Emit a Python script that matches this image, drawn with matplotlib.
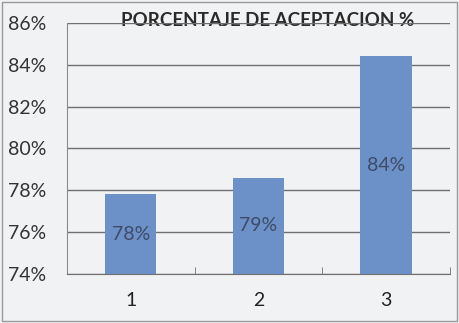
import numpy as np
import matplotlib.pyplot as plt
from matplotlib.patches import Rectangle
from matplotlib.ticker import PercentFormatter
from matplotlib.transforms import offset_copy

plt.rcParams['font.family'] = ['Lato', 'DejaVu Sans']

categorias = ['1', '2', '3']
aceptacion = [0.778, 0.786, 0.844]
titulo = 'PORCENTAJE DE ACEPTACION %'

fig = plt.figure(figsize=(4.59, 3.23), dpi=100)
fig.patch.set_facecolor('#f1f2f4')
fig.patches.append(Rectangle((0.004, 0.006), 0.992, 0.988, transform=fig.transFigure,
                             fill=False, edgecolor='#9a9a9a', linewidth=1.0))

ax = fig.add_axes([0.146, 0.152, 0.834, 0.777])
ax.set_facecolor('#f1f2f4')

x = np.arange(len(categorias))
barras = ax.bar(x, aceptacion, width=0.4, color='#6b91c8', zorder=3)
ax.bar_label(barras, labels=['{:.0%}'.format(v) for v in aceptacion],
             label_type='center', color='#3f4b68', fontsize=14, zorder=4)

ax.set_ylim(0.74, 0.86)
ax.set_yticks(np.arange(0.74, 0.861, 0.02))
ax.yaxis.set_major_formatter(PercentFormatter(1.0, decimals=0))
ax.set_xlim(-0.5, 2.5)
ax.set_xticks(x, categorias)
ax.set_xticks([0.5, 1.5, 2.5], minor=True)

ax.grid(axis='y', color='#6f6f6f', linewidth=1.0, zorder=0)
for s in ['top', 'right']:
    ax.spines[s].set_visible(False)
ax.spines['left'].set_color('#8a8a8a')
ax.spines['bottom'].set_color('#6f6f6f')

ax.tick_params(axis='y', length=0, pad=15, labelsize=14, labelcolor='#333333')
ax.tick_params(axis='x', which='major', length=0, pad=13, labelsize=14, labelcolor='#222222')
ax.tick_params(axis='x', which='minor', length=5, direction='in', color='#6f6f6f')

# title sits on the top gridline, the line running through its lower half
trans = offset_copy(ax.transAxes, fig=fig, x=0, y=2, units='dots')
ax.text(0.525, 1.0, titulo, transform=trans, ha='center', va='center',
        fontsize=13.5, fontweight='bold', color='#2a2a2a', zorder=1)

fig.savefig('out.png', dpi=100, facecolor=fig.get_facecolor())
